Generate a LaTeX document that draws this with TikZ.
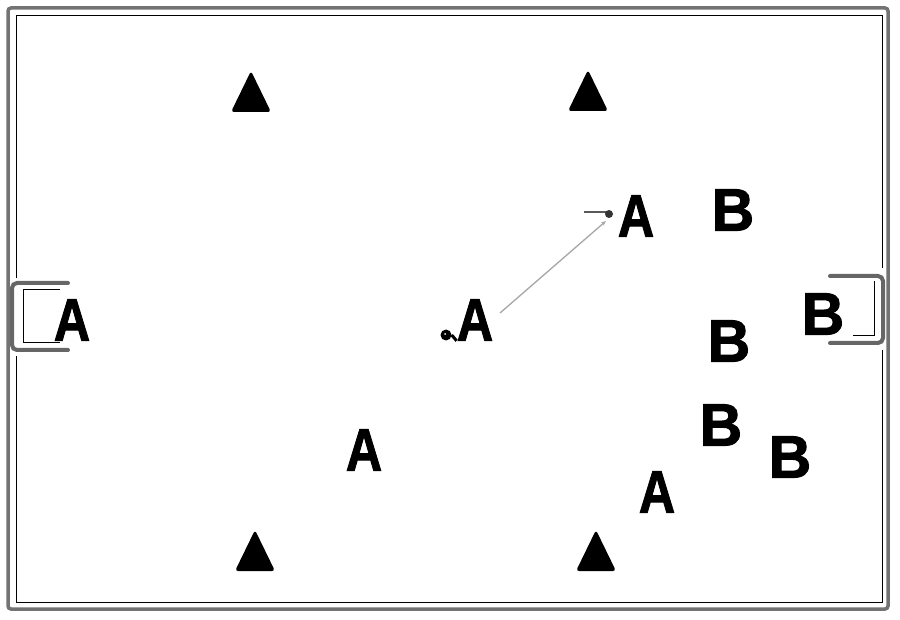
\documentclass[tikz,border=0pt]{standalone}
\usepackage{fontspec}
\setmainfont{Liberation Sans}
\newfontfamily\playerfont[FakeBold=1.6]{Liberation Sans Bold}
\usetikzlibrary{arrows.meta}
\tikzset{
  player/.style={inner sep=0pt, font=\fontsize{60}{60}\playerfont},
  pa/.style={player, xscale=0.84},
  pb/.style={player, xscale=0.98},
  frameout/.style={draw=black!55, line width=3.5pt, rounded corners=3pt},
  framein/.style={draw=black, line width=1pt},
  goal/.style={draw=black!60, line width=4pt, rounded corners=5pt, line cap=round},
  goalin/.style={draw=black, line width=1pt},
  cone/.style={fill=black, rounded corners=3pt},
  pass/.style={draw=black!35, line width=1.3pt, -{Stealth[length=5pt,width=4pt]}},
}
\begin{document}
\begin{tikzpicture}[x=1pt,y=-1pt]
\useasboundingbox (0,0) rectangle (900,620);
% field frame
\draw[frameout] (8,8) rectangle (888,609);
\draw[framein] (16,16) -- (882,16) -- (882,268);
\draw[framein] (882,350) -- (882,602) -- (16,602) -- (16,356);
\draw[framein] (16,278) -- (16,16);
% left goal
\draw[goal] (68,283) -- (12,283) -- (12,350) -- (68,350);
\draw[goalin] (60,290) -- (23,290) -- (23,343) -- (60,343);
% right goal
\draw[goal] (830,276) -- (883,276) -- (883,343) -- (830,343);
\draw[goalin] (853,336) -- (874,336) -- (874,281);
% cones
\foreach \n/\x/\y in {c1/251/92, c2/588/91, c3/255/551, c4/596/551}{
  \fill[cone] (\x-20,\y+20) -- (\x,\y-21) -- (\x+20,\y+20) -- cycle;
  \coordinate (\n) at (\x,\y);
}
% players A
\node[pa] (a1) at (72,320) {A};
\node[pa] (a2) at (475,320) {A};
\node[pa] (a3) at (636,216) {A};
\node[pa] (a4) at (364,450) {A};
\node[pa] (a5) at (657,492) {A};
% players B
\node[pb] (b1) at (733,210) {B};
\node[pb] (b2) at (823,314) {B};
\node[pb] (b3) at (729,341) {B};
\node[pb] (b4) at (721,425) {B};
\node[pb] (b5) at (790,457) {B};
% ball
\node[circle, fill=black, minimum size=11pt, inner sep=0pt] (ball) at (446,335) {};
\fill[white] (445,334) circle (1pt);
\draw[line width=3pt] (ball.east) -- (a2.south west);
% pass
\coordinate (p1) at (500,313);
\coordinate (p2) at (606,221);
\draw[pass] (p1) -- (p2);
\coordinate (r1) at (584,212);
\coordinate (r2) at (607,212);
\draw[draw=black!65, line width=2.5pt] (r1) -- (r2);
\fill[black!80] (609,214) circle (4pt);
\end{tikzpicture}
\end{document}
